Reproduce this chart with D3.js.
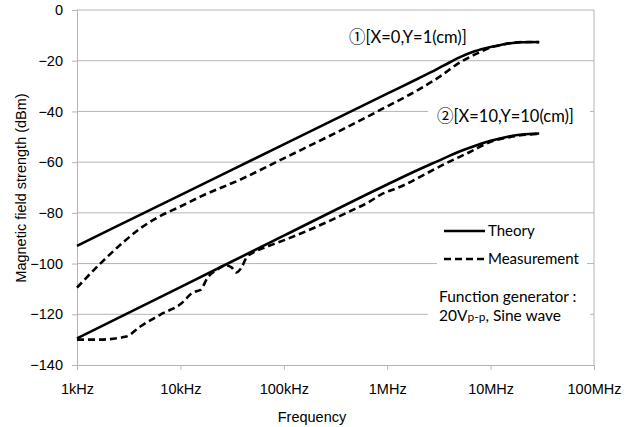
<!DOCTYPE html>
<html>
<head>
<meta charset="utf-8">
<script src="https://cdn.jsdelivr.net/npm/d3@7"></script>
<style>
  body { margin: 0; background: #fff; }
  svg { display: block; }
</style>
</head>
<body>
<div id="chart"></div>
<script>
// frequencies in kHz, values in dBm
const theory1F = [1, 10, 100, 1000, 2000, 3000, 4000, 5000, 7000, 10000, 15000, 20000, 29500];
const theory1V = [-93, -73, -53, -33, -27, -23.4, -20.7, -18.7, -16.3, -14.6, -13.2, -12.7, -12.6];
const meas1F = [1, 1.68, 2.82, 3.98, 5.89, 10, 15.8, 39.8, 100, 316, 1000, 1995, 3162, 5129, 7079, 10000, 12589, 15849, 19953, 29512];
const meas1V = [-109.5, -100, -91.5, -86.5, -82, -77.5, -73.5, -66.5, -58.5, -48.5, -38, -31.5, -26.5, -20.5, -17.5, -14.8, -13.8, -13, -12.6, -12.7];
const theory2F = [1, 10, 100, 1000, 2000, 3000, 5000, 7000, 10000, 15000, 20000, 29500];
const theory2V = [-129.5, -109.3, -89, -68.8, -63, -59.8, -55.8, -53.6, -51.6, -49.9, -49.1, -48.7];
const meas2F = [1, 1.6, 3, 4, 6.3, 10.7, 12.6, 14.5, 15.5, 18.6, 22.4, 27, 31, 35, 39, 44, 50, 72, 105, 220, 430, 680, 850, 1320, 3900, 6300, 10000, 15800, 29500];
const meas2V = [-130, -130, -128.8, -125.1, -120.3, -115, -112, -110.8, -110.5, -105.2, -102.6, -100.7, -101.4, -103.5, -101.5, -97.3, -95.8, -93, -90.5, -85, -79.5, -75.5, -73, -69.8, -60, -56, -52, -50, -48.8];
const xTicks = [1, 10, 100, 1000, 10000, 100000];
const xTickLabels = ["1kHz", "10kHz", "100kHz", "1MHz", "10MHz", "100MHz"];
const yTicks = [0, -20, -40, -60, -80, -100, -120, -140];

const width = 640, height = 427;
const mLeft = 77, mRight = 594, mTop = 10, mBottom = 365;
const grid = "#b4b4b4";
const textFont = "Lato, 'Noto Sans CJK JP', sans-serif";

const svg = d3.select("#chart").append("svg")
  .attr("width", width)
  .attr("height", height)
  .style("font-family", "'Liberation Sans', Arial, sans-serif");

const x = d3.scaleLog().domain([1, 100000]).range([mLeft, mRight]);
const y = d3.scaleLinear().domain([-140, 0]).range([mBottom, mTop]);

// gridlines
svg.append("g").selectAll("line")
  .data(yTicks.filter(d => d > -140))
  .enter().append("line")
  .attr("x1", mLeft).attr("x2", mRight)
  .attr("y1", d => y(d)).attr("y2", d => y(d))
  .attr("stroke", grid).attr("stroke-width", 1);

svg.append("line")
  .attr("x1", mRight).attr("x2", mRight)
  .attr("y1", mTop).attr("y2", mBottom)
  .attr("stroke", grid);

// axes
const xAxis = svg.append("g")
  .attr("transform", "translate(0," + mBottom + ")")
  .call(d3.axisBottom(x).tickValues(xTicks)
    .tickFormat((d, i) => xTickLabels[i]).tickSize(5).tickPadding(14));
const yAxis = svg.append("g")
  .attr("transform", "translate(" + mLeft + ",0)")
  .call(d3.axisLeft(y).tickValues(yTicks).tickSize(5).tickPadding(9));
[xAxis, yAxis].forEach(a => {
  a.select(".domain").attr("stroke", grid);
  a.selectAll(".tick line").attr("stroke", grid);
  a.selectAll("text").attr("fill", "#000").style("font-size", "14.5px")
    .style("font-family", "'Liberation Sans', Arial, sans-serif");
});

svg.append("text")
  .attr("transform", "translate(26,188) rotate(-90)")
  .attr("text-anchor", "middle")
  .style("font-size", "14.5px")
  .text("Magnetic field strength (dBm)");

svg.append("text")
  .attr("x", 312).attr("y", 422)
  .attr("text-anchor", "middle")
  .style("font-size", "14.5px")
  .text("Frequency");

// white text boxes cutting the gridlines
svg.append("rect").attr("x", 428).attr("y", 102).attr("width", 162).attr("height", 26).attr("fill", "#fff");
svg.append("rect").attr("x", 437).attr("y", 218).attr("width", 150).attr("height", 58).attr("fill", "#fff");
svg.append("rect").attr("x", 428).attr("y", 282).attr("width", 162).attr("height", 48).attr("fill", "#fff");

// curves
const line = d3.line()
  .x(d => x(d[0]))
  .y(d => y(d[1]))
  .curve(d3.curveMonotoneX);

const series = [
  { f: theory1F, v: theory1V, dash: null },
  { f: meas1F, v: meas1V, dash: "7,4" },
  { f: theory2F, v: theory2V, dash: null },
  { f: meas2F, v: meas2V, dash: "7,4" }
];
svg.append("g").selectAll("path")
  .data(series)
  .enter().append("path")
  .attr("d", s => line(s.f.map((f, i) => [f, s.v[i]])))
  .attr("fill", "none")
  .attr("stroke", "#000")
  .attr("stroke-width", 2.6)
  .attr("stroke-dasharray", s => s.dash);

// labels
const lab = svg.append("g").style("font-family", textFont).style("font-size", "15px");
const l1 = lab.append("text").attr("x", 349).attr("y", 43).style("font-size", "16.5px");
l1.append("tspan").style("font-family", "'Noto Sans CJK JP'").text("\u2460");
l1.append("tspan").text("[X=0,Y=1(cm)]");
const l2 = lab.append("text").attr("x", 437).attr("y", 122).style("font-size", "16.5px");
l2.append("tspan").style("font-family", "'Noto Sans CJK JP'").text("\u2461");
l2.append("tspan").text("[X=10,Y=10(cm)]");

// legend
const legend = [{ name: "Theory", dash: null, yy: 231 }, { name: "Measurement", dash: "7,4", yy: 259 }];
const lg = lab.selectAll(".lg").data(legend).enter().append("g").attr("class", "lg");
lg.append("line")
  .attr("x1", 444).attr("x2", 485)
  .attr("y1", d => d.yy).attr("y2", d => d.yy)
  .attr("stroke", "#000").attr("stroke-width", 2.6)
  .attr("stroke-dasharray", d => d.dash);
lg.append("text").attr("x", 488).attr("y", d => d.yy + 5).text(d => d.name);

lab.append("text").attr("x", 439).attr("y", 302).style("font-size", "15.5px").text("Function generator :");
const t2 = lab.append("text").attr("x", 439).attr("y", 321).style("font-size", "15.5px");
t2.append("tspan").text("20V");
t2.append("tspan").style("font-size", "12px").text("p-p");
t2.append("tspan").text(",  Sine wave");
</script>
</body>
</html>
